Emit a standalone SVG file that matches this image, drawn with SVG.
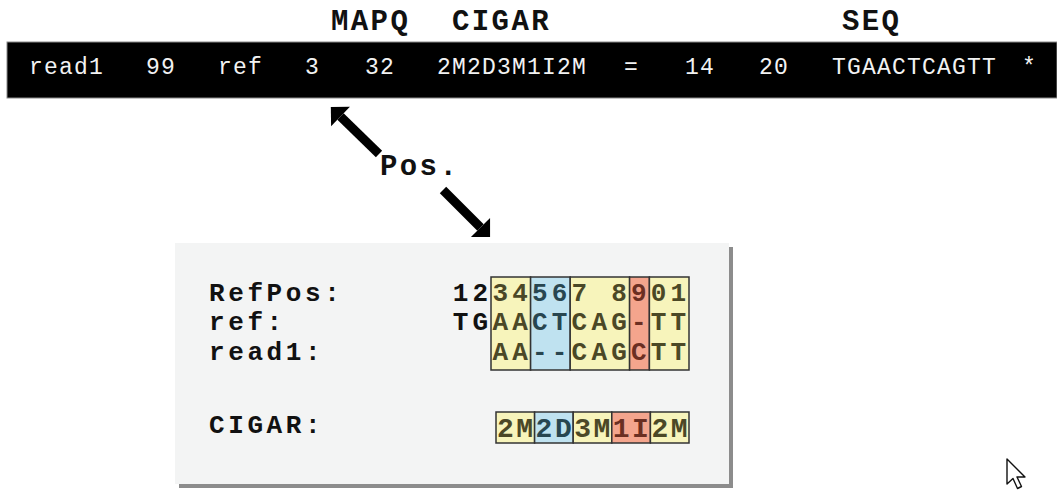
<svg xmlns="http://www.w3.org/2000/svg" width="1057" height="495" viewBox="0 0 1057 495">
  <defs>
    <style>
      .hdr { font-family: "Liberation Mono", "Courier New", monospace; font-weight: bold; font-size: 29px; letter-spacing: 2.4px; fill: #111; }
      .bar { font-family: "Liberation Mono", "Courier New", monospace; font-size: 23px; letter-spacing: 1.2px; fill: #f2f2f2; }
      .lbl { font-family: "Liberation Mono", "Courier New", monospace; font-weight: bold; font-size: 26px; letter-spacing: 3.6px; fill: #111; }
      .aln { font-family: "Liberation Mono", "Courier New", monospace; font-weight: bold; font-size: 26px; letter-spacing: 4.2px; }
      .cig { font-family: "Liberation Mono", "Courier New", monospace; font-weight: bold; font-size: 28px; letter-spacing: 2.5px; }
      .k { fill: #111; }
      .ty { fill: #4b4826; }
      .tb { fill: #284650; }
      .tr { fill: #6b2f22; }
      .fy { fill: #f7f4bb; stroke: #333; stroke-width: 1.5; }
      .fb { fill: #bfe2f0; stroke: #333; stroke-width: 1.5; }
      .fr { fill: #f4a58d; stroke: #333; stroke-width: 1.5; }
      .shaft { stroke: #000; stroke-width: 9; fill: none; marker-end: url(#head); }
    </style>
    <marker id="head" markerUnits="userSpaceOnUse" viewBox="0 -14 14 28" refX="0" refY="0" markerWidth="14" markerHeight="28" orient="auto" overflow="visible">
      <path d="M0,-13.5 L13.5,0 L0,13.5 z" fill="#000"/>
    </marker>
  </defs>

  <rect width="1057" height="495" fill="#ffffff"/>

  <!-- column headers -->
  <g id="headers">
    <text class="hdr" x="331" y="30">MAPQ</text>
    <text class="hdr" x="452" y="30">CIGAR</text>
    <text class="hdr" x="842" y="30">SEQ</text>
  </g>

  <!-- SAM record line -->
  <g id="sam-record">
    <rect x="7" y="42" width="1050" height="56" fill="#000" stroke="#8a8a8a" stroke-width="1"/>
    <text class="bar" x="29" y="74">read1</text>
    <text class="bar" x="146" y="74">99</text>
    <text class="bar" x="218" y="74">ref</text>
    <text class="bar" x="305" y="74">3</text>
    <text class="bar" x="365" y="74">32</text>
    <text class="bar" x="437" y="74">2M2D3M1I2M</text>
    <text class="bar" x="624" y="74">=</text>
    <text class="bar" x="685" y="74">14</text>
    <text class="bar" x="759" y="74">20</text>
    <text class="bar" x="832" y="74">TGAACTCAGTT</text>
    <text class="bar" x="1022" y="74">*</text>
  </g>

  <!-- position label with arrows -->
  <g id="connectors">
    <line class="shaft" x1="379" y1="154" x2="340.5" y2="116.5"/>
    <line class="shaft" x1="443" y1="190" x2="480.5" y2="227.5"/>
  </g>
  <g id="pos-label">
    <text class="hdr" x="380" y="175">Pos.</text>
  </g>

  <!-- alignment panel -->
  <g id="alignment-panel">
    <rect x="179" y="247" width="554" height="241" fill="#8c8c8c"/>
    <rect x="175" y="243" width="554" height="241" fill="#f3f4f4"/>

    <text class="lbl" x="209" y="301">RefPos:</text>
    <text class="lbl" x="209" y="330">ref:</text>
    <text class="lbl" x="209" y="360">read1:</text>
    <text class="lbl" x="209" y="433">CIGAR:</text>

    <!-- operation blocks over the aligned columns -->
    <rect class="fy" x="491" y="277" width="39.6" height="93"/>
    <rect class="fb" x="530.6" y="277" width="39.6" height="93"/>
    <rect class="fy" x="570.2" y="277" width="59.4" height="93"/>
    <rect class="fr" x="629.6" y="277" width="19.8" height="93"/>
    <rect class="fy" x="649.4" y="277" width="39.6" height="93"/>

    <!-- RefPos row -->
    <text class="aln" y="301">
      <tspan class="k" x="452.8">12</tspan><tspan class="ty" x="492.4">34</tspan><tspan class="tb" x="532">56</tspan><tspan class="ty" x="571.6">7</tspan><tspan class="ty" x="611.2">8</tspan><tspan class="tr" x="631">9</tspan><tspan class="ty" x="650.8">01</tspan>
    </text>
    <!-- ref row -->
    <text class="aln" y="330">
      <tspan class="k" x="452.8">TG</tspan><tspan class="ty" x="492.4">AA</tspan><tspan class="tb" x="532">CT</tspan><tspan class="ty" x="571.6">CAG</tspan><tspan class="tr" x="631">-</tspan><tspan class="ty" x="650.8">TT</tspan>
    </text>
    <!-- read row -->
    <text class="aln" y="360">
      <tspan class="ty" x="492.4">AA</tspan><tspan class="tb" x="532">--</tspan><tspan class="ty" x="571.6">CAG</tspan><tspan class="tr" x="631">C</tspan><tspan class="ty" x="650.8">TT</tspan>
    </text>

    <!-- CIGAR operations -->
    <rect class="fy" x="496" y="412" width="38.6" height="31"/>
    <rect class="fb" x="534.6" y="412" width="38.6" height="31"/>
    <rect class="fy" x="573.2" y="412" width="38.6" height="31"/>
    <rect class="fr" x="611.8" y="412" width="38.6" height="31"/>
    <rect class="fy" x="650.4" y="412" width="38.6" height="31"/>
    <text class="cig" y="437">
      <tspan class="ty" x="497">2M</tspan><tspan class="tb" x="535.6">2D</tspan><tspan class="ty" x="574.2">3M</tspan><tspan class="tr" x="612.8">1I</tspan><tspan class="ty" x="651.4">2M</tspan>
    </text>
  </g>

  <!-- pointer -->
  <g id="pointer">
    <path d="M1007,459 L1007,484 L1013,478.5 L1017.5,488.5 L1021.5,486.5 L1017,477 L1025,477 Z" fill="#fff" stroke="#111" stroke-width="1.4" stroke-linejoin="round"/>
  </g>
</svg>
